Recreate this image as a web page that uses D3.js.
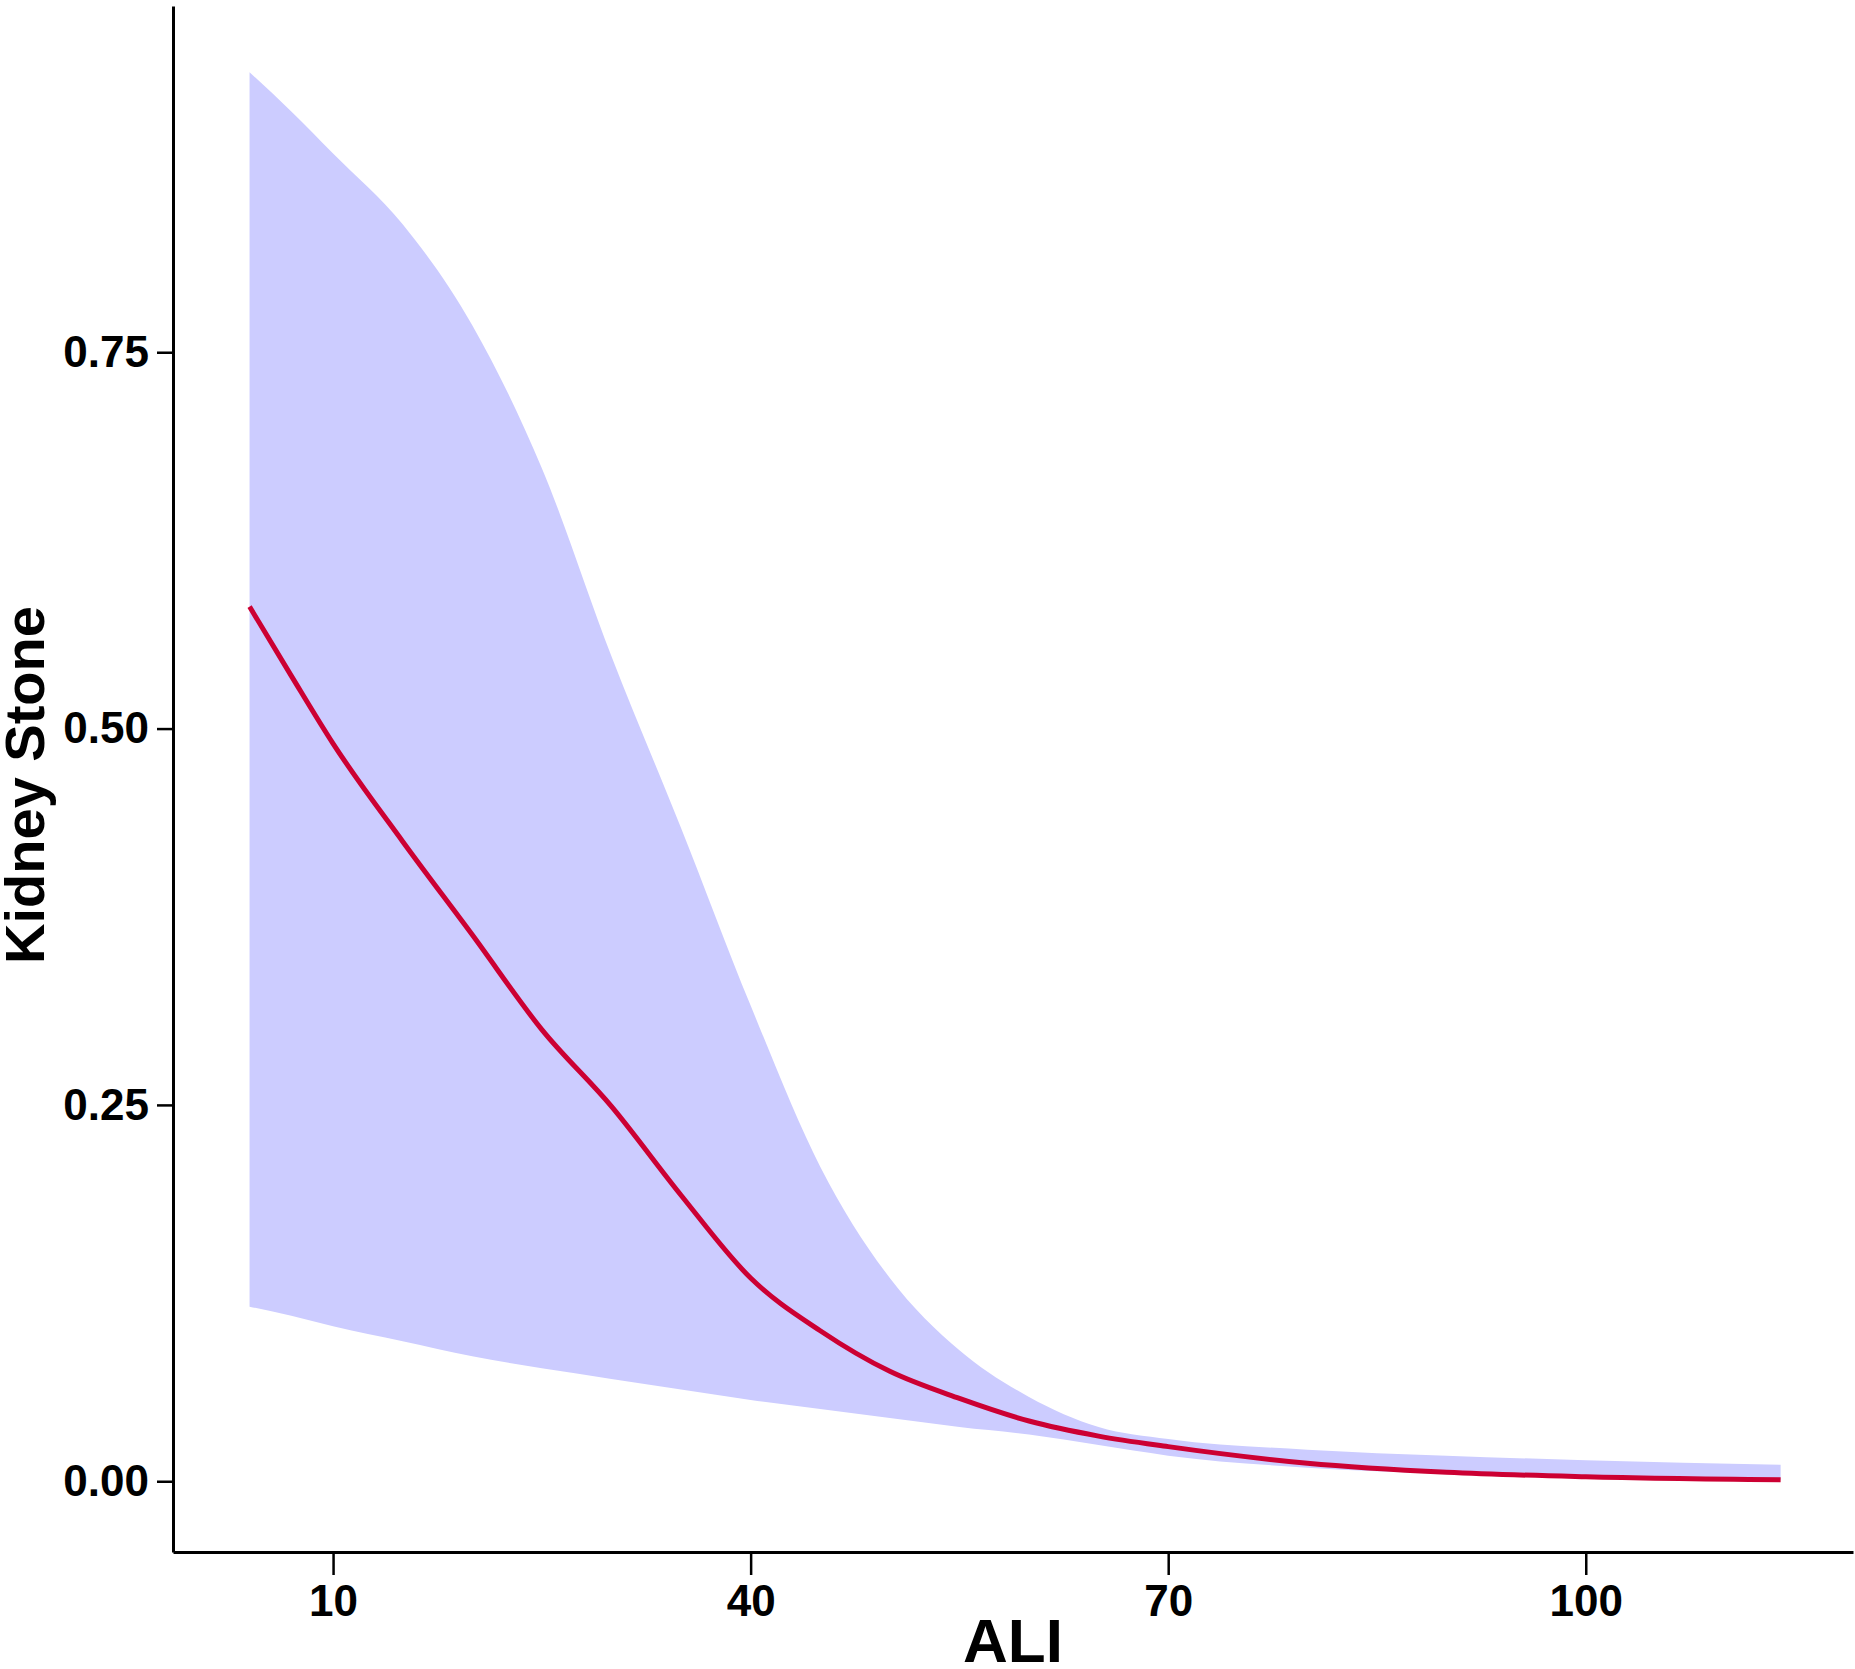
<!DOCTYPE html>
<html>
<head>
<meta charset="utf-8">
<script src="https://cdn.jsdelivr.net/npm/d3@7"></script>
<style>
  body { margin: 0; background: #fff; }
  text { font-family: "Liberation Sans", Arial, sans-serif; font-weight: bold; }
</style>
</head>
<body>
<svg id="chart" width="1855" height="1669"></svg>
<script>
// ALI values and predicted risk with 95% band
var ali   = [4, 7, 10, 15, 20, 25, 30, 35, 40, 45, 50, 55, 60, 65, 70, 80, 90, 100, 114];
var fit   = [0.581, 0.535, 0.490, 0.425, 0.363, 0.300, 0.249, 0.190, 0.135, 0.100, 0.073, 0.055, 0.040, 0.030, 0.023, 0.012, 0.006, 0.003, 0.001];
var upper = [0.936, 0.910, 0.882, 0.835, 0.768, 0.673, 0.548, 0.434, 0.316, 0.209, 0.135, 0.087, 0.056, 0.036, 0.028, 0.021, 0.017, 0.014, 0.011];
var lower = [0.116, 0.110, 0.103, 0.093, 0.083, 0.075, 0.068, 0.061, 0.054, 0.048, 0.042, 0.036, 0.031, 0.024, 0.017, 0.009, 0.005, 0.002, 0.001];
var xTicks = [10, 40, 70, 100];
var yTicks = [0, 0.25, 0.5, 0.75];

var svg = d3.select("#chart")
  , mLeft = 173, mRight = 1853, mTop = 6, mBottom = 1552;

var x = d3.scaleLinear().domain([-1.5, 119.2]).range([mLeft, mRight]);
var y = d3.scaleLinear().domain([-0.047, 0.98]).range([mBottom, mTop]);

var rows = ali.map(function (a, i) {
  return { a: a, f: fit[i], lo: lower[i], hi: upper[i] };
});

svg.append("path")
  .datum(rows)
  .attr("fill", "#ccccff")
  .attr("d", d3.area()
    .curve(d3.curveMonotoneX)
    .x(function (d) { return x(d.a); })
    .y0(function (d) { return y(d.lo); })
    .y1(function (d) { return y(d.hi); }));

svg.append("path")
  .datum(rows)
  .attr("fill", "none")
  .attr("stroke", "#cc0033")
  .attr("stroke-width", 5)
  .attr("d", d3.line()
    .curve(d3.curveMonotoneX)
    .x(function (d) { return x(d.a); })
    .y(function (d) { return y(d.f); }));

var xAxis = svg.append("g")
  .attr("transform", "translate(0," + mBottom + ")")
  .call(d3.axisBottom(x).tickValues(xTicks).tickSize(23).tickPadding(10).tickSizeOuter(0));

var yAxis = svg.append("g")
  .attr("transform", "translate(" + mLeft + ",0)")
  .call(d3.axisLeft(y).tickValues(yTicks).tickFormat(d3.format(".2f")).tickSize(16).tickPadding(8).tickSizeOuter(0));

[xAxis, yAxis].forEach(function (g) {
  g.select(".domain").attr("stroke", "#000").attr("stroke-width", 3);
  g.selectAll(".tick line").attr("stroke", "#000").attr("stroke-width", 2.5);
  g.selectAll("text").attr("font-size", 44).attr("fill", "#000")
    .style("font-family", "'Liberation Sans', Arial, sans-serif").style("font-weight", "bold");
});

svg.append("text")
  .attr("x", (mLeft + mRight) / 2)
  .attr("y", 1662)
  .attr("text-anchor", "middle")
  .attr("font-size", 62)
  .text("ALI");

svg.append("text")
  .attr("transform", "translate(44," + ((mTop + mBottom) / 2 + 6) + ") rotate(-90)")
  .attr("text-anchor", "middle")
  .attr("font-size", 56)
  .text("Kidney Stone");
</script>
</body>
</html>
